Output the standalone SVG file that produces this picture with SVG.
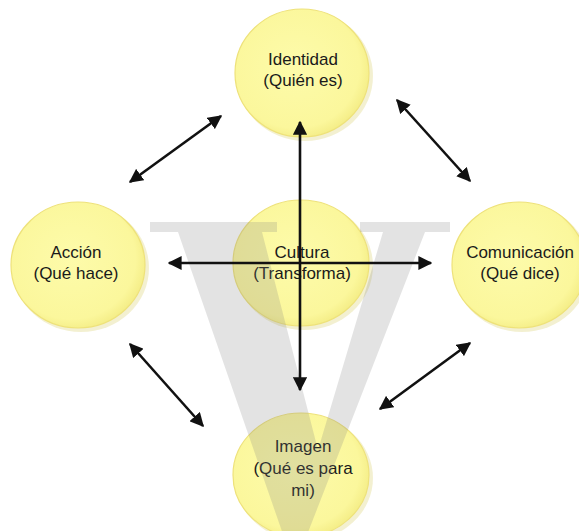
<svg xmlns="http://www.w3.org/2000/svg" width="579" height="531" viewBox="0 0 579 531">
<style>
.nd{fill:url(#yg);stroke:#eee27a;stroke-width:1.2}
.sh{fill:#e4de98;opacity:0.45}
.tx{font-family:"Liberation Sans",Arial,sans-serif;font-size:17px;fill:#1a1a1a;text-anchor:middle}
.ar{stroke:#111;stroke-width:2.6;fill:none;marker-start:url(#ah);marker-end:url(#ah)}
</style>
<defs>
<radialGradient id="yg" cx="0.45" cy="0.45" r="0.6">
<stop offset="0" stop-color="#fdfbaa"/>
<stop offset="0.8" stop-color="#fbf79c"/>
<stop offset="1" stop-color="#f2ea80"/>
</radialGradient>
<marker id="ah" viewBox="0 0 10 10" refX="9" refY="5" markerWidth="5.4" markerHeight="5.4" orient="auto-start-reverse" markerUnits="strokeWidth">
<path d="M0,0 L10,5 L0,10 Z" fill="#111"/>
</marker>
</defs>
<rect width="579" height="531" fill="#fff"/>
<g id="identidad">
<ellipse class="sh" cx="305" cy="76" rx="68" ry="65"/>
<ellipse class="nd" cx="302" cy="73" rx="67" ry="64"/>
<text class="tx" x="303" y="65">Identidad</text>
<text class="tx" x="303" y="86">(Quién es)</text>
</g>
<g id="accion">
<ellipse class="sh" cx="81" cy="268" rx="68" ry="64"/>
<ellipse class="nd" cx="78" cy="265" rx="67" ry="63"/>
<text class="tx" x="76" y="258">Acción</text>
<text class="tx" x="76" y="279">(Qué hace)</text>
</g>
<g id="comunicacion">
<ellipse class="sh" cx="522" cy="268" rx="68" ry="64"/>
<ellipse class="nd" cx="519" cy="265" rx="67" ry="63"/>
<text class="tx" x="520" y="258">Comunicación</text>
<text class="tx" x="520" y="279">(Qué dice)</text>
</g>
<g id="cultura">
<ellipse class="sh" cx="304" cy="266" rx="69" ry="64"/>
<ellipse class="nd" cx="301" cy="263" rx="68" ry="63"/>
<text class="tx" x="302" y="258">Cultura</text>
<text class="tx" x="302" y="279">(Transforma)</text>
</g>
<g id="imagen">
<ellipse class="sh" cx="304" cy="478" rx="69" ry="63"/>
<ellipse class="nd" cx="301" cy="475" rx="68" ry="62"/>
<text class="tx" x="303" y="452">Imagen</text>
<text class="tx" x="303" y="474">(Qué es para</text>
<text class="tx" x="303" y="496">mi)</text>
</g>
<g id="watermark" opacity="0.22">
<path fill="#808080" d="M150,222 L277,222 L277,232 L262,232 L318,450 L383,232 L360,232 L360,222 L450,222 L450,232 L425,232 L305,540 L285,540 L178,232 L150,232 Z"/>
</g>
<g id="connectors">
<line class="ar" x1="300" y1="122" x2="300" y2="390"/>
<line class="ar" x1="169" y1="263" x2="431" y2="263"/>
<line class="ar" x1="130" y1="182" x2="221" y2="116"/>
<line class="ar" x1="397" y1="100" x2="470" y2="181"/>
<line class="ar" x1="130" y1="344" x2="203" y2="426"/>
<line class="ar" x1="470" y1="343" x2="380" y2="409"/>
</g>
</svg>
